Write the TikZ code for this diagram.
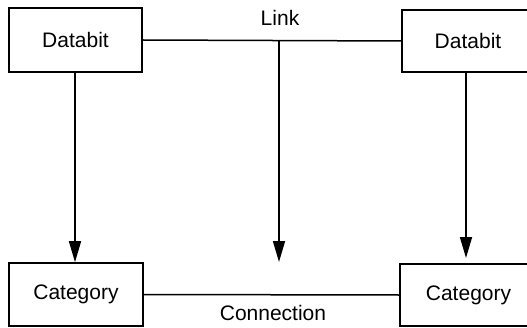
\documentclass[tikz,border=0pt]{standalone}
\usepackage{fontspec}
\setmainfont{Liberation Sans}
\usetikzlibrary{arrows.meta}
\begin{document}
\begin{tikzpicture}[x=1pt,y=1pt,
  box/.style={draw,line width=1.6pt,inner sep=0pt,font=\fontsize{21}{24}\selectfont},
  conn/.style={line width=1.5pt},
  arr/.style={line width=1.6pt,-{Triangle[length=21pt,width=12pt]}},
  lbl/.style={font=\fontsize{21}{24}\selectfont}]
\useasboundingbox (0,0) rectangle (527,327);
\clip (0,0) rectangle (527,327);
\node[box,minimum width=133pt,minimum height=64pt] (tl) at (75.5,287) {Databit};
\node[box,minimum width=132pt,minimum height=62pt] (tr) at (468,286) {Databit};
\node[box,minimum width=134pt,minimum height=63pt] (bl) at (76,32.5) {Category};
\node[box,minimum width=137pt,minimum height=62pt] (br) at (468.5,32) {Category};
\draw[conn] (tl.east) -- (tr.west);
\draw[conn] (bl.east) -- (br.west);
\node[lbl] (link) at (280,309) {Link};
\node[lbl] (cx) at (273,14) {Connection};
\coordinate (linkpt) at (279,286.5);
\coordinate (midend) at (279,65);
\coordinate (rend) at (466,69);
\draw[arr] (tl.south -| 75,0) -- (bl.north -| 75,0);
\draw[arr] (tr.south -| rend) -- (rend);
\draw[arr] (linkpt) -- (midend);
\end{tikzpicture}
\end{document}
